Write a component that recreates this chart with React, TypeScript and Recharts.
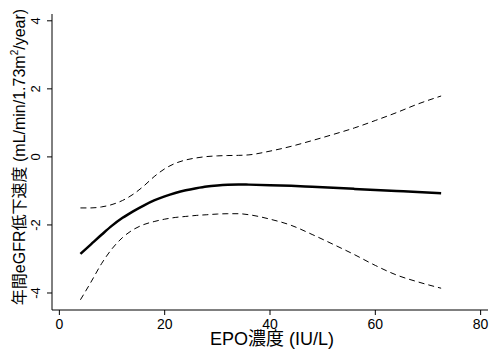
import { LineChart, Line, XAxis, YAxis, Label } from 'recharts'

// EPO concentration (IU/L) at which the curves were read
const epo = [4, 6, 8, 10, 12, 14, 16, 18, 20, 22, 24, 26, 28, 30, 32, 34, 36, 40, 44, 48, 52, 56, 60, 64, 68, 72.5]
// fitted annual eGFR decline
const fit = [-2.85, -2.57, -2.29, -2.02, -1.79, -1.6, -1.43, -1.28, -1.16, -1.06, -0.98, -0.92, -0.87, -0.84, -0.82, -0.81, -0.815, -0.83, -0.85, -0.88, -0.91, -0.94, -0.97, -1.0, -1.03, -1.07]
// 95% CI
const upper = [-1.5, -1.5, -1.47, -1.4, -1.28, -1.1, -0.86, -0.58, -0.35, -0.19, -0.09, -0.03, 0.01, 0.03, 0.04, 0.045, 0.06, 0.17, 0.31, 0.48, 0.66, 0.85, 1.07, 1.3, 1.55, 1.79]
const lower = [-4.2, -3.68, -3.14, -2.7, -2.37, -2.14, -1.99, -1.9, -1.83, -1.78, -1.75, -1.72, -1.7, -1.68, -1.67, -1.67, -1.7, -1.83, -2.01, -2.28, -2.57, -2.87, -3.19, -3.47, -3.67, -3.86]

const xTicks = [0, 20, 40, 60, 80]
const yTicks = [-4, -2, 0, 2, 4]

const data = epo.map((x, i) => ({ x, fit: fit[i], upper: upper[i], lower: lower[i] }))

const FONT = "'Liberation Sans Narrow', 'Liberation Sans', Arial, 'Noto Sans CJK JP', sans-serif"
const TITLE_FONT = "'Liberation Sans', Arial, 'Noto Sans CJK JP', sans-serif"

const YTick = ({ x, y, payload }: any) => {
  const tx = x - 7
  return (
    <text
      x={tx}
      y={y}
      transform={`rotate(-90, ${tx}, ${y})`}
      textAnchor="middle"
      fontSize={13}
      fontFamily={FONT}
      fill="#000"
    >
      {payload.value}
    </text>
  )
}

const XTitle = () => (
  <text x={272} y={345} textAnchor="middle" fontSize={18} fontFamily={TITLE_FONT} fill="#000">
    EPO濃度 (IU/L)
  </text>
)

const YTitle = () => (
  <text
    x={25}
    y={157}
    transform="rotate(-90, 25, 157)"
    textAnchor="middle"
    fontSize={16}
    fontFamily={TITLE_FONT}
    fill="#000"
  >
    年間eGFR低下速度 (mL/min/1.73m
    <tspan fontSize={10} dy={-7}>2</tspan>
    <tspan dy={7}>/year)</tspan>
  </text>
)

export default function App() {
  return (
    <div style={{ position: 'absolute', left: 0, top: 0, background: '#fff' }}>
      <LineChart width={500} height={355} data={data} margin={{ top: 14, right: 12, bottom: 0, left: 0 }}>
        <XAxis
          dataKey="x"
          type="number"
          domain={[-1.4, 81.4]}
          ticks={xTicks}
          allowDataOverflow
          height={45}
          tickSize={5}
          tickMargin={4}
          tick={{ fontSize: 14, fill: '#000', fontFamily: FONT }}
          axisLine={{ stroke: '#000' }}
          tickLine={{ stroke: '#000' }}
        >
          <Label content={XTitle} />
        </XAxis>
        <YAxis
          type="number"
          domain={[-4.5, 4.2]}
          ticks={yTicks}
          allowDataOverflow
          width={52}
          tickSize={5}
          tickMargin={0}
          tick={YTick}
          axisLine={{ stroke: '#000' }}
          tickLine={{ stroke: '#000' }}
        >
          <Label content={YTitle} />
        </YAxis>
        <Line type="monotone" dataKey="upper" stroke="#000" strokeWidth={1} strokeDasharray="6 4" dot={false} isAnimationActive={false} />
        <Line type="monotone" dataKey="lower" stroke="#000" strokeWidth={1} strokeDasharray="6 4" dot={false} isAnimationActive={false} />
        <Line type="monotone" dataKey="fit" stroke="#000" strokeWidth={2.5} dot={false} isAnimationActive={false} />
      </LineChart>
    </div>
  )
}
